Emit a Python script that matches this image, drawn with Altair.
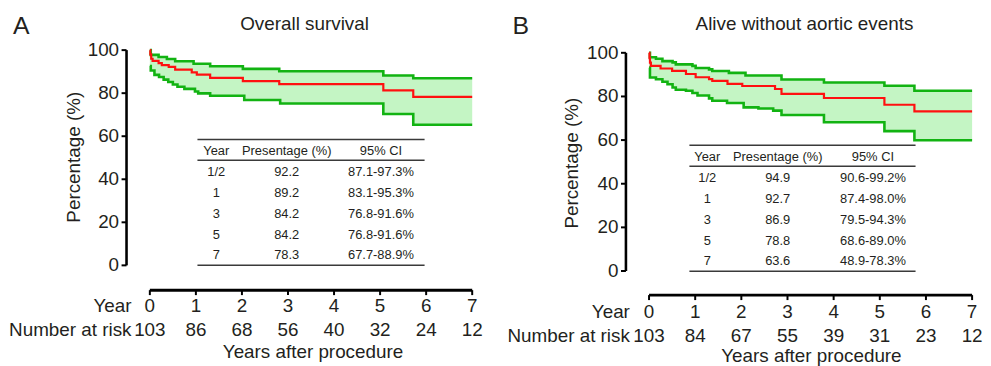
import altair as alt
import pandas as pd

# ---------------- data ----------------
years = [0, 1, 2, 3, 4, 5, 6, 7]
risk_A = [103, 86, 68, 56, 40, 32, 24, 12]
risk_B = [103, 84, 67, 55, 39, 31, 23, 12]
y_ticks = [0, 20, 40, 60, 80, 100]

tbl_head = ["Year", "Presentage (%)", "95% CI"]
tbl_year = ["1/2", "1", "3", "5", "7"]
tbl_pct_A = ["92.2", "89.2", "84.2", "84.2", "78.3"]
tbl_ci_A = ["87.1-97.3%", "83.1-95.3%", "76.8-91.6%", "76.8-91.6%", "67.7-88.9%"]
tbl_pct_B = ["94.9", "92.7", "86.9", "78.8", "63.6"]
tbl_ci_B = ["90.6-99.2%", "87.4-98.0%", "79.5-94.3%", "68.6-89.0%", "48.9-78.3%"]

# Overall survival (panel A) - Kaplan-Meier steps
A_est_t = [0, 0.01, 0.03, 0.06, 0.19, 0.26, 0.41, 0.55, 0.91, 1.02, 1.31, 2.02, 2.81, 5.07, 5.72, 7.0]
A_est_v = [100, 98, 96, 95, 94, 93, 92.2, 90.9, 89.7, 88.6, 87.1, 85.6, 84.2, 81.3, 78.3, 78.3]
A_hi_t = [0, 0.02, 0.19, 0.37, 0.55, 0.95, 1.31, 2.02, 2.81, 5.07, 5.72, 7.0]
A_hi_v = [100, 97.8, 96.8, 95.9, 94.8, 93.7, 92.5, 91.3, 90.2, 88.2, 86.9, 86.9]
A_lo_t = [0, 0.02, 0.1, 0.2, 0.3, 0.4, 0.5, 0.6, 0.75, 0.98, 1.05, 1.31, 2.05, 2.83, 5.07, 5.72, 7.0]
A_lo_v = [92.6, 90.5, 88.5, 87.5, 86.3, 85.2, 84.0, 83.0, 82.0, 80.8, 79.9, 78.8, 76.8, 75.2, 70.3, 65.3, 65.3]

# Alive without aortic events (panel B)
B_est_t = [0, 0.01, 0.02, 0.04, 0.25, 0.5, 0.8, 1.01, 1.3, 1.37, 1.7, 2.02, 2.73, 2.87, 3.79, 5.10, 5.75, 7.0]
B_est_v = [100, 97.5, 95.5, 94.0, 92.8, 91.7, 90.3, 88.8, 87.9, 87.1, 85.8, 84.8, 83.4, 81.2, 79.3, 76.2, 73.2, 73.2]
B_hi_t = [0, 0.02, 0.15, 0.29, 0.51, 0.58, 0.94, 1.01, 1.30, 1.37, 1.73, 2.09, 2.87, 3.79, 5.10, 5.75, 7.0]
B_hi_v = [100, 98.0, 97.3, 96.2, 95.6, 94.7, 94.0, 93.0, 92.4, 91.7, 90.8, 89.6, 87.8, 86.4, 84.9, 82.6, 82.6]
B_lo_t = [0, 0.02, 0.15, 0.29, 0.4, 0.51, 0.58, 0.8, 0.94, 1.05, 1.3, 1.37, 1.69, 2.05, 2.37, 2.69, 2.87, 3.79, 5.10, 5.75, 7.0]
B_lo_v = [93.2, 88.7, 87.9, 86.7, 85.6, 84.1, 83.1, 82.6, 81.6, 80.4, 79.1, 78.0, 77.0, 75.0, 74.5, 73.5, 71.5, 68.2, 64.1, 59.9, 59.9]

# ---------------- style ----------------
FONT = "Liberation Sans"
TXT = "#231f20"
RED = "#ff1010"
GREEN = "#12b312"
FILL = "#c4f5c4"
BIG = 19
TOP, H = 8, 350


def step_value(ts, vs, t):
    out = vs[0]
    for a, b in zip(ts, vs):
        if a <= t:
            out = b
    return out


def panel(cal, est_t, est_v, hi_t, hi_v, lo_t, lo_v, risk, pct, ci, title, letter):
    x0, ppy, y0, ppu, left, W = cal["x0"], cal["ppy"], cal["y0"], cal["ppu"], cal["left"], cal["W"]
    tx = lambda px: (px - x0) / ppy
    vy = lambda py: (y0 - py) / ppu
    xs = alt.Scale(domain=[tx(left), tx(left + W)], nice=False, zero=False)
    ys = alt.Scale(domain=[vy(TOP + H), vy(TOP)], nice=False, zero=False)
    X = lambda f: alt.X(f, type="quantitative", scale=xs, axis=None)
    Y = lambda f: alt.Y(f, type="quantitative", scale=ys, axis=None)

    grid = sorted(set(hi_t) | set(lo_t))
    band = pd.DataFrame({
        "t": grid,
        "hi": [step_value(hi_t, hi_v, t) for t in grid],
        "lo": [step_value(lo_t, lo_v, t) for t in grid],
    })
    layers = []
    layers.append(alt.Chart(band).mark_area(interpolate="step-after", color=FILL, opacity=1)
                  .encode(x=X("t"), y=Y("hi"), y2="lo"))
    for ts, vs in [(hi_t, hi_v), (lo_t, lo_v)]:
        layers.append(alt.Chart(pd.DataFrame({"t": ts, "v": vs}))
                      .mark_line(interpolate="step-after", color=GREEN, strokeWidth=2.6)
                      .encode(x=X("t"), y=Y("v")))
    layers.append(alt.Chart(pd.DataFrame({"t": est_t, "v": est_v}))
                  .mark_line(interpolate="step-after", color=RED, strokeWidth=2.2)
                  .encode(x=X("t"), y=Y("v")))

    # y axis
    layers.append(alt.Chart(pd.DataFrame({"x": [tx(cal["yax"])], "a": [0], "b": [100]}))
                  .mark_rule(color="black", strokeWidth=2.6)
                  .encode(x=X("x"), y=Y("a"), y2="b"))
    yt = pd.DataFrame({"v": y_ticks, "x1": tx(cal["yax"] - 5), "x2": tx(cal["yax"]),
                       "lx": tx(cal["yax"] - 7.5), "s": [str(v) for v in y_ticks]})
    layers.append(alt.Chart(yt).mark_rule(color="black", strokeWidth=2)
                  .encode(x=X("x1"), x2="x2", y=Y("v")))
    layers.append(alt.Chart(yt).mark_text(font=FONT, fontSize=BIG, align="right", baseline="middle", color=TXT)
                  .encode(x=X("lx"), y=Y("v"), text="s:N"))

    def txt(df, size, align="center", angle=0):
        return alt.Chart(df).mark_text(font=FONT, fontSize=size, align=align, baseline="middle",
                                       angle=angle, color=TXT).encode(x=X("x"), y=Y("y"), text="s:N")

    layers.append(txt(pd.DataFrame({"x": [tx(cal["ytitle"][0])], "y": [vy(cal["ytitle"][1])],
                                    "s": ["Percentage (%)"]}), BIG, angle=270))

    # x axis (year / number at risk)
    xa = vy(cal["xax"])
    layers.append(alt.Chart(pd.DataFrame({"a": [0], "b": [7], "y": [xa]}))
                  .mark_rule(color="black", strokeWidth=3).encode(x=X("a"), x2="b", y=Y("y")))
    xt = pd.DataFrame({"t": years, "a": xa, "b": vy(cal["xax"] + 5),
                       "yl": vy(cal["yl"]), "rl": vy(cal["rl"]),
                       "ys": [str(v) for v in years], "rs": [str(v) for v in risk]})
    layers.append(alt.Chart(xt).mark_rule(color="black", strokeWidth=2)
                  .encode(x=X("t"), y=Y("a"), y2="b"))
    layers.append(alt.Chart(xt).mark_text(font=FONT, fontSize=BIG, baseline="middle", color=TXT)
                  .encode(x=X("t"), y=Y("yl"), text="ys:N"))
    layers.append(alt.Chart(xt).mark_text(font=FONT, fontSize=BIG, baseline="middle", color=TXT)
                  .encode(x=X("t"), y=Y("rl"), text="rs:N"))
    layers.append(txt(pd.DataFrame({"x": [tx(cal["rowlab"])] * 2,
                                    "y": [vy(cal["yl"]), vy(cal["rl"])],
                                    "s": ["Year", "Number at risk"]}), BIG, align="right"))
    layers.append(txt(pd.DataFrame({"x": [tx(cal["xtitle"][0])], "y": [vy(cal["xtitle"][1])],
                                    "s": ["Years after procedure"]}), BIG))
    layers.append(txt(pd.DataFrame({"x": [tx(cal["title"][0])], "y": [vy(cal["title"][1])],
                                    "s": [title]}), BIG))
    layers.append(txt(pd.DataFrame({"x": [tx(cal["letter"][0])], "y": [vy(cal["letter"][1])],
                                    "s": [letter]}), 25))

    # table
    tb = cal["tab"]
    tl = pd.DataFrame({"a": tx(tb["x"][0]), "b": tx(tb["x"][1]),
                       "y": [vy(tb["top"]), vy(tb["top"] + 21), vy(tb["top"] + 127)]})
    layers.append(alt.Chart(tl).mark_rule(color="#3a3a3a", strokeWidth=1.5)
                  .encode(x=X("a"), x2="b", y=Y("y")))
    cols = [tx(c) for c in tb["cols"]]
    cells = []
    for j, h in enumerate(tbl_head):
        cells.append({"x": cols[j], "y": vy(tb["top"] + 12), "s": h})
    for i in range(len(tbl_year)):
        ry = vy(tb["top"] + 33 + 21 * i)
        for j, s in enumerate([tbl_year[i], pct[i], ci[i]]):
            cells.append({"x": cols[j], "y": ry, "s": s})
    layers.append(txt(pd.DataFrame(cells), 13))

    return alt.layer(*layers).properties(width=W, height=H)


calA = {"x0": 151, "ppy": 46.43, "y0": 266, "ppu": 2.17, "left": 8, "W": 485,
        "yax": 127.5, "ytitle": (75, 157), "xax": 291, "yl": 307, "rl": 331, "rowlab": 132.5,
        "xtitle": (315.5, 353), "title": (307, 23), "letter": (21.5, 25),
        "tab": {"x": (199, 428), "cols": (218, 289, 384), "top": 139}}
calB = {"x0": 654.3, "ppy": 46.53, "y0": 271.7, "ppu": 2.2, "left": 493, "W": 490,
        "yax": 631, "ytitle": (577, 163), "xax": 296, "yl": 313, "rl": 337, "rowlab": 635,
        "xtitle": (818, 357), "title": (811, 23), "letter": (525, 25),
        "tab": {"x": (695, 923), "cols": (713, 784, 880), "top": 145}}

pA = panel(calA, A_est_t, A_est_v, A_hi_t, A_hi_v, A_lo_t, A_lo_v, risk_A, tbl_pct_A, tbl_ci_A,
           "Overall survival", "A")
pB = panel(calB, B_est_t, B_est_v, B_hi_t, B_hi_v, B_lo_t, B_lo_v, risk_B, tbl_pct_B, tbl_ci_B,
           "Alive without aortic events", "B")

chart = (alt.hconcat(pA, pB, spacing=0)
         .properties(padding=0)
         .configure_view(strokeWidth=0))

chart.save("out.html", embed_options={"renderer": "svg", "actions": False})
